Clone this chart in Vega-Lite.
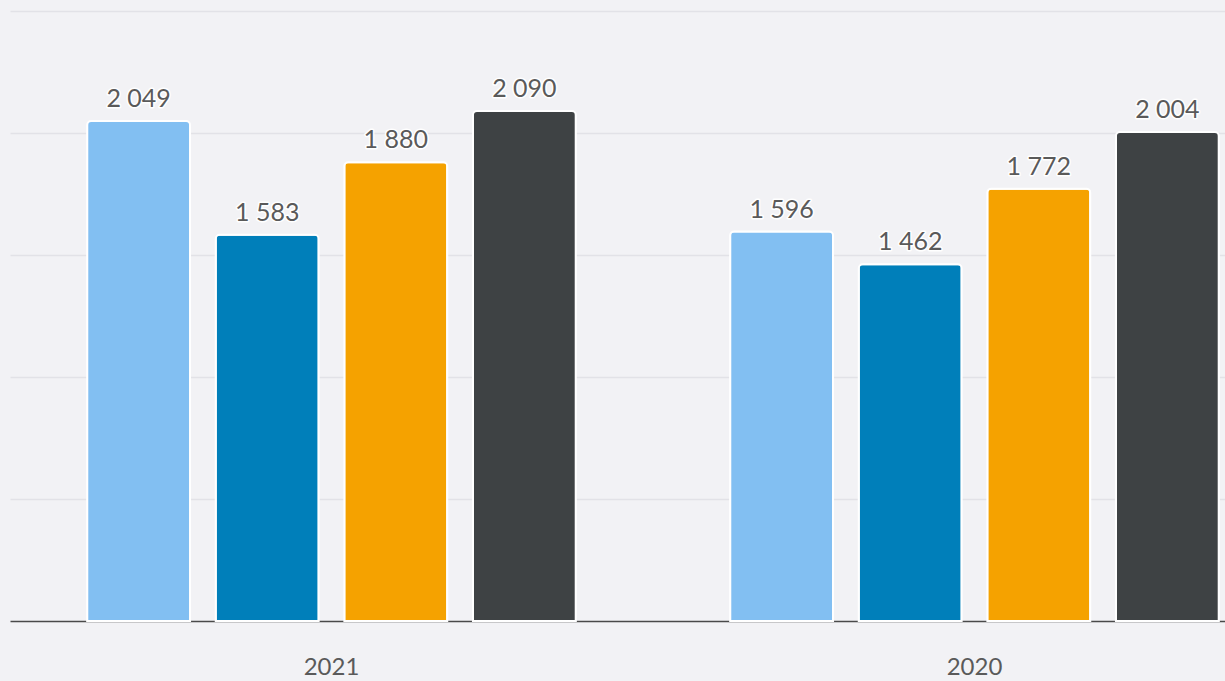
{
  "$schema": "https://vega.github.io/schema/vega-lite/v6.json",
  "autosize": "none",
  "width": 1286,
  "height": 610,
  "padding": {"left": 10, "top": 11, "right": 0, "bottom": 60},
  "background": "#f2f2f5",
  "config": {
    "view": {"stroke": null},
    "locale": {"number": {"decimal": ",", "thousands": " ", "grouping": [3], "currency": ["", ""]}}
  },
  "data": {
    "values": [
      {"year": "2021", "series": "s1", "value": 2049},
      {"year": "2021", "series": "s2", "value": 1583},
      {"year": "2021", "series": "s3", "value": 1880},
      {"year": "2021", "series": "s4", "value": 2090},
      {"year": "2020", "series": "s1", "value": 1596},
      {"year": "2020", "series": "s2", "value": 1462},
      {"year": "2020", "series": "s3", "value": 1772},
      {"year": "2020", "series": "s4", "value": 2004}
    ]
  },
  "encoding": {
    "x": {
      "field": "year", "type": "nominal", "sort": ["2021", "2020"],
      "scale": {"paddingInner": 0, "paddingOuter": 0},
      "axis": {"title": null, "labelAngle": 0, "labelFont": "Lato", "labelFontSize": 24, "labelColor": "#5a5a5a", "labelPadding": 34, "ticks": false, "domainColor": "#4a4a4a", "domainWidth": 1.5, "grid": false}
    },
    "xOffset": {
      "field": "series", "type": "nominal", "sort": ["s1", "s2", "s3", "s4"],
      "scale": {"paddingInner": 0.2, "paddingOuter": 0.6}
    },
    "y": {
      "field": "value", "type": "quantitative",
      "scale": {"domain": [0, 2500], "nice": false},
      "axis": {"title": null, "labels": false, "ticks": false, "domain": false, "values": [500, 1000, 1500, 2000, 2500], "gridColor": "#e2e2e7", "gridWidth": 1.5}
    }
  },
  "layer": [
    {
      "mark": {"type": "bar", "cornerRadiusTopLeft": 4, "cornerRadiusTopRight": 4, "stroke": "#ffffff", "strokeWidth": 2},
      "encoding": {
        "color": {
          "field": "series", "type": "nominal", "legend": null,
          "scale": {"domain": ["s1", "s2", "s3", "s4"], "range": ["#82bff2", "#007fba", "#f5a200", "#3e4244"]}
        }
      }
    },
    {
      "mark": {"type": "text", "baseline": "alphabetic", "dy": -14, "font": "Lato", "fontSize": 25, "fill": "#ffffff", "stroke": "#ffffff", "strokeWidth": 3, "strokeJoin": "round"},
      "encoding": {
        "text": {"field": "value", "type": "quantitative", "format": ",d"}
      }
    },
    {
      "mark": {"type": "text", "baseline": "alphabetic", "dy": -14, "font": "Lato", "fontSize": 25, "fill": "#5a5a5a"},
      "encoding": {
        "text": {"field": "value", "type": "quantitative", "format": ",d"}
      }
    }
  ]
}
